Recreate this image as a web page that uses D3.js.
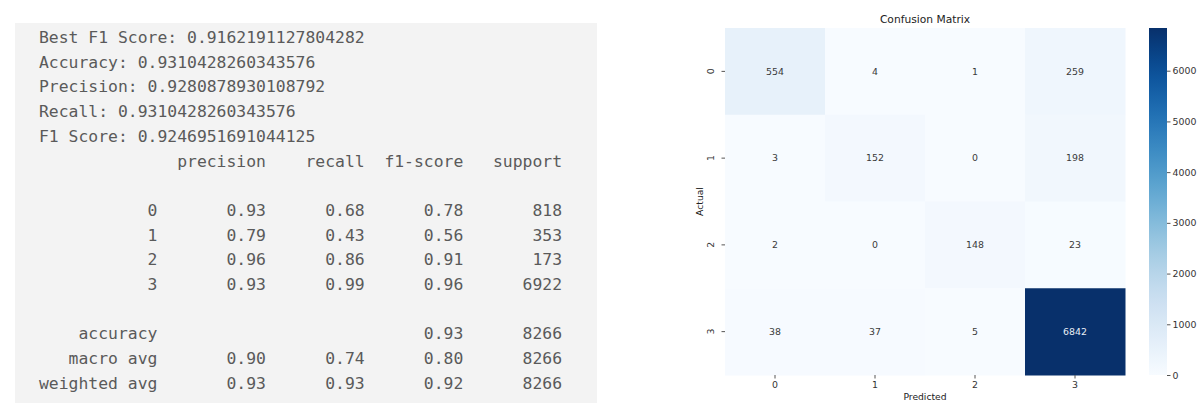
<!DOCTYPE html>
<html>
<head>
<meta charset="utf-8">
<script src="https://cdn.jsdelivr.net/npm/d3@7"></script>
<style>
  html, body { margin: 0; padding: 0; background: #ffffff; }
  svg { display: block; }
  .report text { font-family: "DejaVu Sans Mono", monospace; font-size: 16.4px; fill: #5a5a5a; white-space: pre; }
  .cm text { font-family: "DejaVu Sans", sans-serif; }
</style>
</head>
<body>
<svg id="chart" width="1198" height="403"></svg>
<script>
// ---- Summary metrics printed above the report ----
const summaryLabels = ["Best F1 Score", "Accuracy", "Precision", "Recall", "F1 Score"];
const summaryValues = ["0.9162191127804282", "0.9310428260343576", "0.9280878930108792", "0.9310428260343576", "0.9246951691044125"];

// ---- Per-class classification report ----
const classLabels = ["0", "1", "2", "3"];
const precision   = [0.93, 0.79, 0.96, 0.93];
const recall      = [0.68, 0.43, 0.86, 0.99];
const f1score     = [0.78, 0.56, 0.91, 0.96];
const support     = [818, 353, 173, 6922];
const reportHeaders = ["precision", "recall", "f1-score", "support"];
const accuracyRow = { f1: 0.93, support: 8266 };
const macroAvg    = [0.90, 0.74, 0.80, 8266];
const weightedAvg = [0.93, 0.93, 0.92, 8266];

// ---- Confusion matrix (rows = actual, columns = predicted) ----
const actualLabels = ["0", "1", "2", "3"];
const predictedLabels = ["0", "1", "2", "3"];
const matrix = [
  [554, 4, 1, 259],
  [3, 152, 0, 198],
  [2, 0, 148, 23],
  [38, 37, 5, 6842]
];
const colorbarTicks = [0, 1000, 2000, 3000, 4000, 5000, 6000];

const svg = d3.select("#chart");

// ================= Text report panel =================
const f2 = d3.format(".2f");
const col = s => " " + String(s).padStart(9);
const row = (label, cells) => String(label).padStart(12) + " " + cells.map(col).join("");

const lines = summaryLabels.map((l, i) => `${l}: ${summaryValues[i]}`);
lines.push(row("", reportHeaders));
lines.push("");
classLabels.forEach((c, i) => lines.push(row(c, [f2(precision[i]), f2(recall[i]), f2(f1score[i]), support[i]])));
lines.push("");
lines.push(row("accuracy", ["", "", f2(accuracyRow.f1), accuracyRow.support]));
lines.push(row("macro avg", [f2(macroAvg[0]), f2(macroAvg[1]), f2(macroAvg[2]), macroAvg[3]]));
lines.push(row("weighted avg", [f2(weightedAvg[0]), f2(weightedAvg[1]), f2(weightedAvg[2]), weightedAvg[3]]));

const report = svg.append("g").attr("class", "report");
report.append("rect")
  .attr("x", 15).attr("y", 23).attr("width", 582).attr("height", 380)
  .attr("fill", "#f3f3f3");
report.selectAll("text.line")
  .data(lines)
  .join("text")
  .attr("class", "line")
  .attr("x", 39)
  .attr("y", (d, i) => 43 + i * 24.7)
  .text(d => d);

// ================= Confusion matrix heatmap =================
const cm = svg.append("g").attr("class", "cm");
const hmLeft = 725, hmRight = 1125, hmTop = 28, hmBottom = 375;

const x = d3.scaleBand().domain(predictedLabels).range([hmLeft, hmRight]);
const y = d3.scaleBand().domain(actualLabels).range([hmTop, hmBottom]);
const vmax = d3.max(matrix.flat());
const color = d3.scaleSequential(d3.interpolateBlues).domain([0, vmax]);

const cells = matrix.flatMap((r, i) => r.map((v, j) => ({ a: actualLabels[i], p: predictedLabels[j], v })));

cm.selectAll("rect.cell")
  .data(cells)
  .join("rect")
  .attr("class", "cell")
  .attr("x", d => x(d.p))
  .attr("y", d => y(d.a))
  .attr("width", x.bandwidth() + 0.5)
  .attr("height", y.bandwidth() + 0.5)
  .attr("fill", d => color(d.v));

cm.selectAll("text.annot")
  .data(cells)
  .join("text")
  .attr("class", "annot")
  .attr("x", d => x(d.p) + x.bandwidth() / 2)
  .attr("y", d => y(d.a) + y.bandwidth() / 2)
  .attr("dy", "0.35em")
  .attr("text-anchor", "middle")
  .attr("font-size", 9.4)
  .attr("fill", d => d.v / vmax > 0.6 ? "#e8eef6" : "#3a3a3a")
  .text(d => d.v);

// Axes
const xAxis = cm.append("g")
  .attr("transform", `translate(0,${hmBottom})`)
  .call(d3.axisBottom(x).tickSize(3.5).tickPadding(3));
xAxis.select(".domain").remove();
xAxis.selectAll(".tick line").attr("stroke", "#555");
xAxis.selectAll(".tick text")
  .attr("font-family", "DejaVu Sans, sans-serif")
  .attr("font-size", 9.4)
  .attr("fill", "#333");

const yAxis = cm.append("g")
  .attr("transform", `translate(${hmLeft},0)`)
  .call(d3.axisLeft(y).tickSize(3.5));
yAxis.select(".domain").remove();
yAxis.selectAll(".tick line").attr("stroke", "#555");
yAxis.selectAll(".tick text")
  .attr("x", null)
  .attr("dy", "0.35em")
  .attr("text-anchor", "middle")
  .attr("transform", "translate(-14,0) rotate(-90)")
  .attr("font-family", "DejaVu Sans, sans-serif")
  .attr("font-size", 9.4)
  .attr("fill", "#333");

// Titles
cm.append("text")
  .attr("x", (hmLeft + hmRight) / 2).attr("y", 23)
  .attr("text-anchor", "middle")
  .attr("font-size", 10.7)
  .attr("fill", "#222")
  .text("Confusion Matrix");

cm.append("text")
  .attr("x", (hmLeft + hmRight) / 2).attr("y", 400)
  .attr("text-anchor", "middle")
  .attr("font-size", 9.2)
  .attr("fill", "#222")
  .text("Predicted");

cm.append("text")
  .attr("transform", `translate(703,${(hmTop + hmBottom) / 2}) rotate(-90)`)
  .attr("text-anchor", "middle")
  .attr("font-size", 9.2)
  .attr("fill", "#222")
  .text("Actual");

// ================= Colorbar =================
const cbX = 1149, cbW = 18;
const cbScale = d3.scaleLinear().domain([0, vmax]).range([hmBottom, hmTop]);

const defs = svg.append("defs");
const grad = defs.append("linearGradient")
  .attr("id", "cbGrad")
  .attr("x1", 0).attr("y1", 1).attr("x2", 0).attr("y2", 0);
d3.range(0, 1.0001, 0.05).forEach(t => {
  grad.append("stop").attr("offset", t).attr("stop-color", d3.interpolateBlues(t));
});

cm.append("rect")
  .attr("x", cbX).attr("y", hmTop)
  .attr("width", cbW).attr("height", hmBottom - hmTop)
  .attr("fill", "url(#cbGrad)");

const cbAxis = cm.append("g")
  .attr("transform", `translate(${cbX + cbW},0)`)
  .call(d3.axisRight(cbScale).tickValues(colorbarTicks).tickSize(3.5).tickPadding(2).tickFormat(d3.format("d")));
cbAxis.select(".domain").remove();
cbAxis.selectAll(".tick line").attr("stroke", "#555");
cbAxis.selectAll(".tick text")
  .attr("font-family", "DejaVu Sans, sans-serif")
  .attr("font-size", 9.4)
  .attr("fill", "#333");
</script>
</body>
</html>
